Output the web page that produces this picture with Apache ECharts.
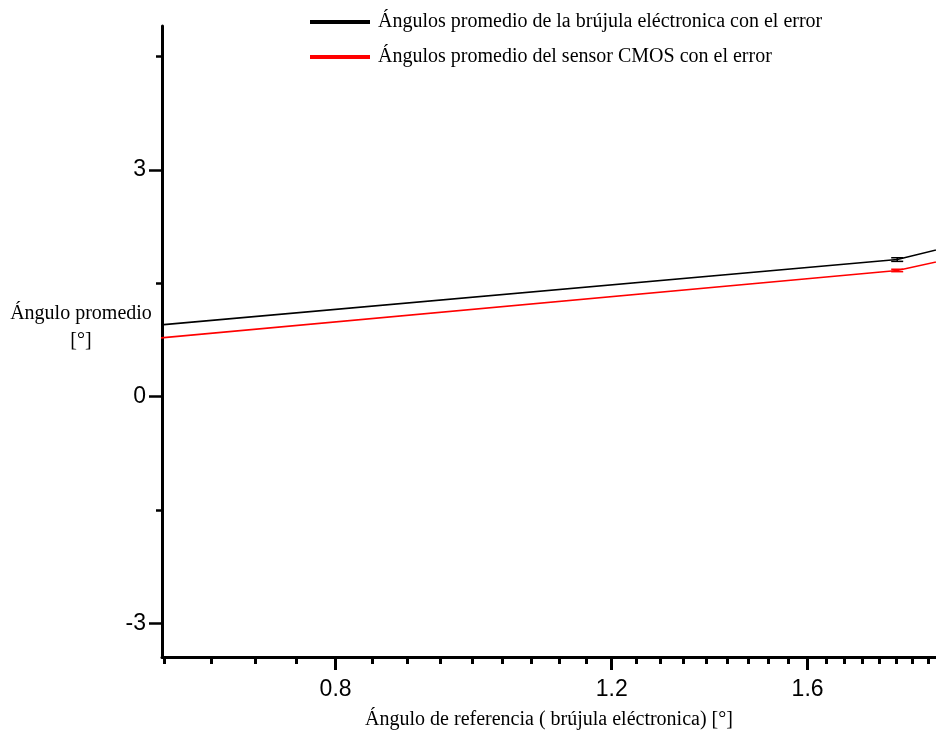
<!DOCTYPE html>
<html>
<head>
<meta charset="utf-8">
<script src="https://cdn.jsdelivr.net/npm/echarts@6/dist/echarts.min.js"></script>
<style>
html,body{margin:0;padding:0;background:#fff;}
#chart{width:936px;height:734px;}
</style>
</head>
<body>
<div id="chart"></div>
<script>
// ---- data ----
const seriesNames = [
  'Ángulos promedio de la brújula eléctronica con el error',
  'Ángulos promedio del sensor CMOS con el error'
];
const xValues = [0.6, 1.825, 2.0];
const compassValues = [0.925, 1.813, 2.015];
const cmosValues = [0.752, 1.669, 1.848];
const errX = [1.825];
const compassErr = [0.024];
const cmosErr = [0.016];

const xMajorTicks = [0.8, 1.2, 1.6];
const xMinorTicks = [0.6222, 0.6667, 0.7111, 0.7556,
  0.8444, 0.8889, 0.9333, 0.9778, 1.0222, 1.0667, 1.1111, 1.1556,
  1.2444, 1.2889, 1.3333, 1.3778, 1.4222, 1.4667, 1.5111, 1.5556,
  1.6444, 1.6889, 1.7333, 1.7778, 1.8222, 1.8667, 1.9111];
const yMajorTicks = [-3, 0, 3];
const yMinorTicks = [-1.5, 1.5, 4.5];

const xMin = 0.62, xMax = 1.932;
const yMin = -3.44, yMax = 4.9;

const colors = ['#000000', '#ff0000'];

function pairs(xs, ys) { return xs.map((x, i) => [x, ys[i]]); }
function triples(xs, ys, es) { return xs.map((x, i) => [x, ys[i], es[i]]); }

function errRender(color) {
  return function (params, api) {
    const x = api.value(0), y = api.value(1), e = api.value(2);
    const top = api.coord([x, y + e]);
    const bot = api.coord([x, y - e]);
    const hw = 6;
    const st = { stroke: color, lineWidth: 1.5 };
    return {
      type: 'group',
      children: [
        { type: 'line', shape: { x1: top[0], y1: top[1], x2: bot[0], y2: bot[1] }, style: st },
        { type: 'line', shape: { x1: top[0] - hw, y1: top[1], x2: top[0] + hw, y2: top[1] }, style: st },
        { type: 'line', shape: { x1: bot[0] - hw, y1: bot[1], x2: bot[0] + hw, y2: bot[1] }, style: st }
      ]
    };
  };
}

const chart = echarts.init(document.getElementById('chart'), null, { renderer: 'canvas' });

const sansLabel = { fontFamily: 'Liberation Sans, Arial, sans-serif', fontSize: 23, color: '#000' };

chart.setOption({
  animation: false,
  backgroundColor: '#fff',
  grid: { left: 162, top: 26, right: 0, bottom: 77, containLabel: false, outerBoundsMode: 'none' },
  legend: {
    orient: 'vertical',
    left: 310,
    top: 12,
    padding: 0,
    itemWidth: 60,
    itemHeight: 4,
    itemGap: 15,
    icon: 'rect',
    data: seriesNames,
    textStyle: { fontFamily: 'Liberation Serif, Times New Roman, serif', fontSize: 20, color: '#000', padding: [0, 0, 0, 3] }
  },
  xAxis: [
    {
      type: 'log', logBase: 10, min: xMin, max: xMax, position: 'bottom',
      name: 'Ángulo de referencia ( brújula eléctronica) [°]',
      nameLocation: 'middle', nameGap: 53,
      nameTextStyle: { fontFamily: 'Liberation Serif, Times New Roman, serif', fontSize: 20, color: '#000' },
      axisLine: { show: true, onZero: false, lineStyle: { color: '#000', width: 3 } },
      axisTick: { show: true, inside: false, length: 13, customValues: xMajorTicks, lineStyle: { color: '#000', width: 3 } },
      axisLabel: Object.assign({ show: true, margin: 21, customValues: xMajorTicks, formatter: v => Number(v).toFixed(1) }, sansLabel),
      splitLine: { show: false },
      minorTick: { show: false }
    },
    {
      type: 'log', logBase: 10, min: xMin, max: xMax, position: 'bottom', offset: 0,
      axisLine: { show: false, onZero: false },
      axisTick: { show: true, inside: false, length: 7, customValues: xMinorTicks, lineStyle: { color: '#000', width: 3 } },
      axisLabel: { show: false },
      splitLine: { show: false }
    }
  ],
  yAxis: [
    {
      type: 'value', min: yMin, max: yMax, position: 'left',
      axisLine: { show: true, onZero: false, lineStyle: { color: '#000', width: 3 } },
      axisTick: { show: true, inside: false, length: 13, customValues: yMajorTicks, lineStyle: { color: '#000', width: 2.5 } },
      axisLabel: Object.assign({ show: true, margin: 16, customValues: yMajorTicks, formatter: v => String(Math.round(v)) }, sansLabel),
      splitLine: { show: false }
    },
    {
      type: 'value', min: yMin, max: yMax, position: 'left', offset: 0,
      axisLine: { show: false, onZero: false },
      axisTick: { show: true, inside: false, length: 6, customValues: yMinorTicks, lineStyle: { color: '#000', width: 2.5 } },
      axisLabel: { show: false },
      splitLine: { show: false }
    }
  ],
  graphic: [
    {
      type: 'text', left: 10, top: 300,
      style: {
        text: 'Ángulo promedio\n[°]', textAlign: 'center', lineHeight: 27,
        font: '20px "Liberation Serif", "Times New Roman", serif', fill: '#000',
        width: 142, align: 'center'
      }
    }
  ],
  series: [
    {
      name: seriesNames[0], type: 'line', xAxisIndex: 0, yAxisIndex: 0,
      data: pairs(xValues, compassValues), showSymbol: false, symbol: 'none', clip: true,
      lineStyle: { color: colors[0], width: 1.6 }, itemStyle: { color: colors[0] }, z: 3
    },
    {
      name: seriesNames[1], type: 'line', xAxisIndex: 0, yAxisIndex: 0,
      data: pairs(xValues, cmosValues), showSymbol: false, symbol: 'none', clip: true,
      lineStyle: { color: colors[1], width: 1.6 }, itemStyle: { color: colors[1] }, z: 3
    },
    {
      name: 'err0', type: 'custom', xAxisIndex: 0, yAxisIndex: 0,
      data: triples(errX, compassValues.slice(1, 2), compassErr),
      renderItem: errRender(colors[0]), z: 4
    },
    {
      name: 'err1', type: 'custom', xAxisIndex: 0, yAxisIndex: 0,
      data: triples(errX, cmosValues.slice(1, 2), cmosErr),
      renderItem: errRender(colors[1]), z: 4
    }
  ]
});
</script>
</body>
</html>
